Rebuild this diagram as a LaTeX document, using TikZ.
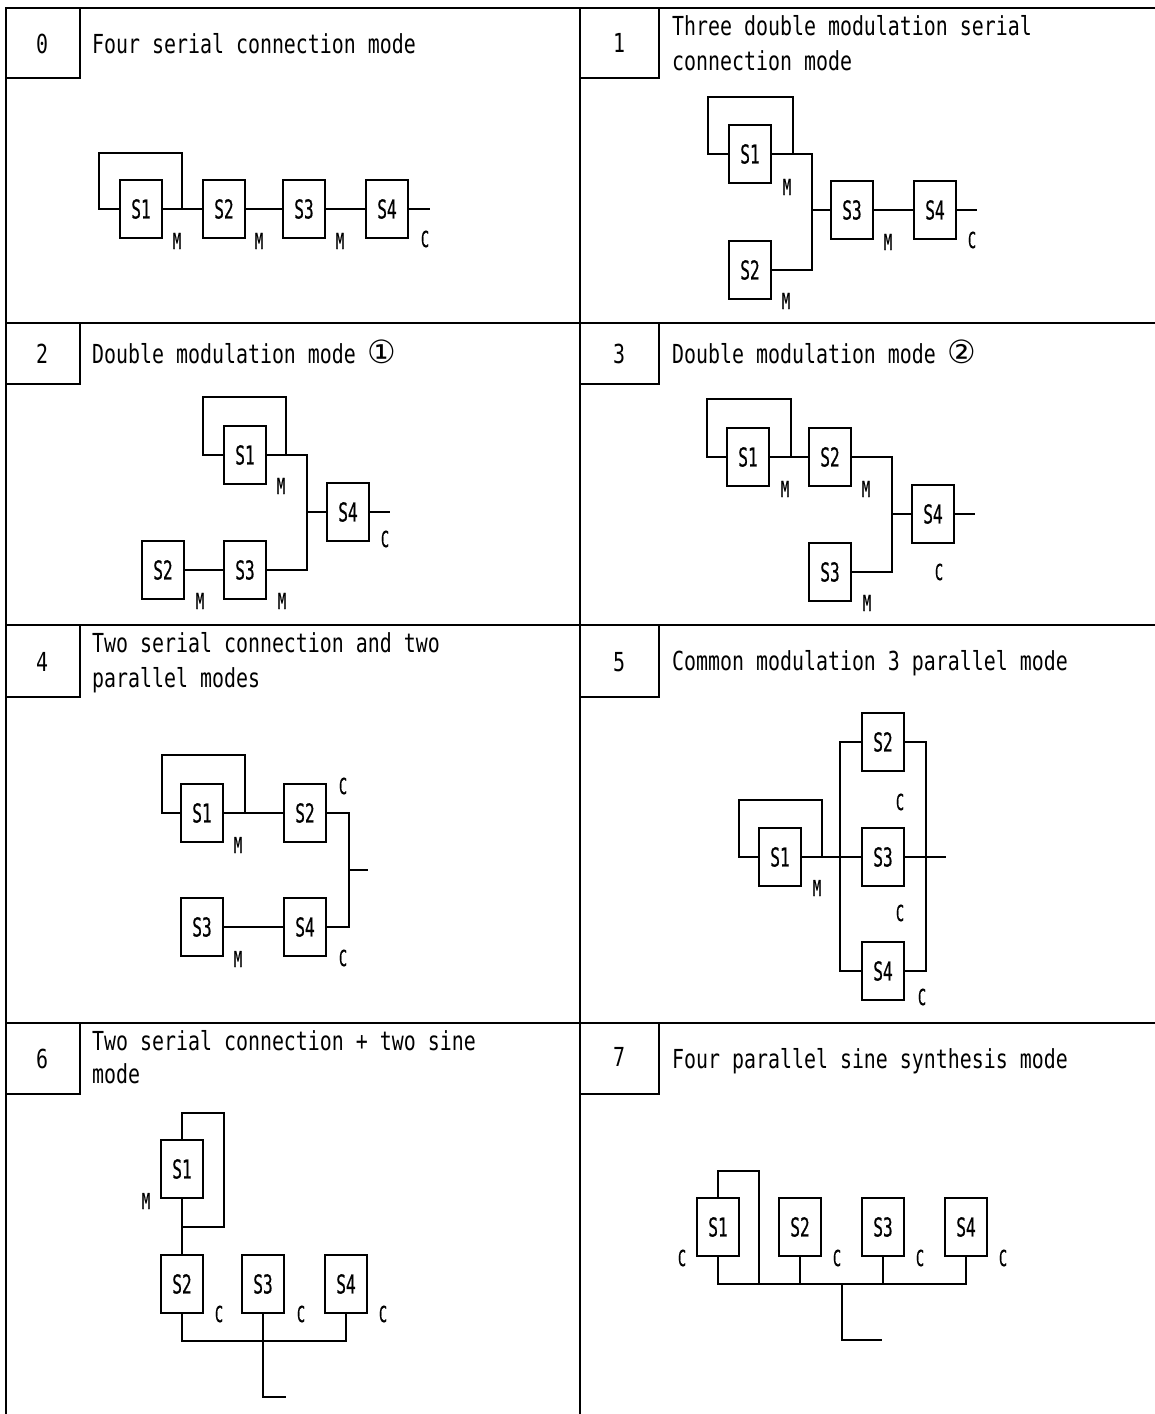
\documentclass[tikz,border=0pt]{standalone}
\usepackage{fontspec}
\usetikzlibrary{positioning}
\newfontfamily\ttlfont[FakeStretch=0.76]{DejaVu Sans Mono}
\newfontfamily\labfont[FakeStretch=0.62,FakeBold=0.6]{DejaVu Sans Mono}
\newfontfamily\circfont{DejaVu Sans}
\def\cone{{\circfont\fontsize{32}{32}\selectfont ①}}
\def\ctwo{{\circfont\fontsize{32}{32}\selectfont ②}}
\tikzset{
  sbox/.style={draw,line width=2.2pt,minimum width=42pt,minimum height=58pt,inner sep=0pt,font=\labfont\fontsize{26}{26}\selectfont},
  lab/.style={inner sep=0pt,font=\labfont\fontsize{22}{22}\selectfont},
  ttl/.style={anchor=base west,inner sep=0pt,font=\ttlfont\fontsize{26.2}{35}\selectfont},
  num/.style={inner sep=0pt,font=\ttlfont\fontsize{26.2}{35}\selectfont},
  wire/.style={line width=1.6pt},
  grid/.style={line width=2.8pt}
}

\begin{document}
\begin{tikzpicture}[x=1pt,y=-1pt]
  \useasboundingbox (0,0) rectangle (1155,1414);
  \draw[grid] (6,1414) -- (6,8) -- (1155,8);
  \draw[grid] (580,8) -- (580,1414);
  \foreach \y in {323,625,1023} \draw[grid] (6,\y) -- (1155,\y);
  \foreach \t/\b in {8/78,323/384,625/697,1023/1094}{
    \draw[grid] (6,\b) -| (80,\t);
    \draw[grid] (580,\b) -| (659,\t);
  }
  \node[num] (n0) at (42,44) {0};
  \node[num] (n1) at (619,43) {1};
  \node[num] (n2) at (42,354) {2};
  \node[num] (n3) at (619,354) {3};
  \node[num] (n4) at (42,662) {4};
  \node[num] (n5) at (619,662) {5};
  \node[num] (n6) at (42,1059) {6};
  \node[num] (n7) at (619,1057) {7};
  \node[ttl] (t0) at (92,53) {Four serial connection mode};
  \node[ttl] (t1a) at (672,35) {Three double modulation serial};
  \node[ttl] (t1b) at (672,70) {connection mode};
  \node[ttl] (t2) at (92,363) {Double modulation mode \cone};
  \node[ttl] (t3) at (672,363) {Double modulation mode \ctwo};
  \node[ttl] (t4a) at (92,652) {Two serial connection and two};
  \node[ttl] (t4b) at (92,687) {parallel modes};
  \node[ttl] (t5) at (672,670) {Common modulation 3 parallel mode};
  \node[ttl] (t6a) at (92,1050) {Two serial connection + two sine};
  \node[ttl] (t6b) at (92,1083) {mode};
  \node[ttl] (t7) at (672,1068) {Four parallel sine synthesis mode};

  \node[sbox] (p0s1) at (141,209) {S1};
  \node[sbox] (p0s2) at (224,209) {S2};
  \node[sbox] (p0s3) at (304,209) {S3};
  \node[sbox] (p0s4) at (387,209) {S4};
  \coordinate (p0out) at (430,209);
  \draw[wire] (p0s1) -- (p0s2) -- (p0s3) -- (p0s4) -- (p0out);
  \draw[wire] (p0s1.west) -| (99,153) -| (182,209);
  \node[lab] (p0m1) at (177,241) {M};
  \node[lab] (p0m2) at (259,241) {M};
  \node[lab] (p0m3) at (340,241) {M};
  \node[lab] (p0c4) at (425,239) {C};

  \node[sbox] (p1s1) at (750,154) {S1};
  \node[sbox] (p1s2) at (750,270) {S2};
  \node[sbox] (p1s3) at (852,210) {S3};
  \node[sbox] (p1s4) at (935,210) {S4};
  \coordinate (p1b) at (812,210);
  \coordinate (p1out) at (977,210);
  \draw[wire] (p1s1) -| (p1b);
  \draw[wire] (p1s2) -| (p1b);
  \draw[wire] (p1b) -- (p1s3) -- (p1s4) -- (p1out);
  \draw[wire] (p1s1.west) -| (708,97) -| (793,154);
  \node[lab] (p1m1) at (787,187) {M};
  \node[lab] (p1m3) at (888,242) {M};
  \node[lab] (p1c4) at (972,240) {C};
  \node[lab] (p1m2) at (786,301) {M};

  \node[sbox] (p2s1) at (245,455) {S1};
  \node[sbox] (p2s2) at (163,570) {S2};
  \node[sbox] (p2s3) at (245,570) {S3};
  \node[sbox] (p2s4) at (348,512) {S4};
  \coordinate (p2b) at (307,512);
  \coordinate (p2out) at (390,512);
  \draw[wire] (p2s1) -| (p2b);
  \draw[wire] (p2s3) -| (p2b);
  \draw[wire] (p2s2) -- (p2s3);
  \draw[wire] (p2b) -- (p2s4) -- (p2out);
  \draw[wire] (p2s1.west) -| (203,397) -| (286,455);
  \node[lab] (p2m1) at (281,486) {M};
  \node[lab] (p2c4) at (385,539) {C};
  \node[lab] (p2m2) at (200,601) {M};
  \node[lab] (p2m3) at (282,601) {M};

  \node[sbox] (p3s1) at (748,457) {S1};
  \node[sbox] (p3s2) at (830,457) {S2};
  \node[sbox] (p3s3) at (830,572) {S3};
  \node[sbox] (p3s4) at (933,514) {S4};
  \coordinate (p3b) at (892,514);
  \coordinate (p3out) at (975,514);
  \draw[wire] (p3s1) -- (p3s2);
  \draw[wire] (p3s2) -| (p3b);
  \draw[wire] (p3s3) -| (p3b);
  \draw[wire] (p3b) -- (p3s4) -- (p3out);
  \draw[wire] (p3s1.west) -| (707,399) -| (791,457);
  \node[lab] (p3m1) at (785,489) {M};
  \node[lab] (p3m2) at (866,489) {M};
  \node[lab] (p3c4) at (939,572) {C};
  \node[lab] (p3m3) at (867,603) {M};

  \node[sbox] (p4s1) at (202,813) {S1};
  \node[sbox] (p4s2) at (305,813) {S2};
  \node[sbox] (p4s3) at (202,927) {S3};
  \node[sbox] (p4s4) at (305,927) {S4};
  \coordinate (p4b) at (349,870);
  \coordinate (p4out) at (368,870);
  \draw[wire] (p4s1) -- (p4s2);
  \draw[wire] (p4s3) -- (p4s4);
  \draw[wire] (p4s2) -| (p4b);
  \draw[wire] (p4s4) -| (p4b);
  \draw[wire] (p4b) -- (p4out);
  \draw[wire] (p4s1.west) -| (162,755) -| (245,813);
  \node[lab] (p4m1) at (238,845) {M};
  \node[lab] (p4c2) at (343,786) {C};
  \node[lab] (p4m3) at (238,959) {M};
  \node[lab] (p4c4) at (343,958) {C};

  \node[sbox] (p5s1) at (780,857) {S1};
  \node[sbox] (p5s2) at (883,742) {S2};
  \node[sbox] (p5s3) at (883,857) {S3};
  \node[sbox] (p5s4) at (883,971) {S4};
  \coordinate (p5out) at (946,857);
  \draw[wire] (p5s1) -- (p5s3);
  \draw[wire] (p5s3) -- (p5out);
  \draw[wire] (p5s2.west) -- ++(-21,0) |- (p5s4.west);
  \draw[wire] (p5s2.east) -- ++(21,0) |- (p5s4.east);
  \draw[wire] (p5s1.west) -| (739,800) -| (822,857);
  \node[lab] (p5m1) at (817,888) {M};
  \node[lab] (p5c2) at (900,802) {C};
  \node[lab] (p5c3) at (900,913) {C};
  \node[lab] (p5c4) at (922,997) {C};

  \node[sbox] (p6s1) at (182,1169) {S1};
  \node[sbox] (p6s2) at (182,1284) {S2};
  \node[sbox] (p6s3) at (263,1284) {S3};
  \node[sbox] (p6s4) at (346,1284) {S4};
  \coordinate (p6out) at (286,1397);
  \draw[wire] (p6s1) -- (p6s2);
  \draw[wire] (p6s1.north) |- (224,1113) |- (182,1227);
  \draw[wire] (p6s2.south) -- ++(0,27) -| (p6s4.south);
  \draw[wire] (p6s3.south) |- (p6out);
  \node[lab] (p6m1) at (146,1201) {M};
  \node[lab] (p6c2) at (219,1314) {C};
  \node[lab] (p6c3) at (301,1314) {C};
  \node[lab] (p6c4) at (383,1314) {C};

  \node[sbox] (p7s1) at (718,1227) {S1};
  \node[sbox] (p7s2) at (800,1227) {S2};
  \node[sbox] (p7s3) at (883,1227) {S3};
  \node[sbox] (p7s4) at (966,1227) {S4};
  \coordinate (p7bus) at (842,1283);
  \coordinate (p7out) at (882,1340);
  \draw[wire] (p7s1.south) -- ++(0,27) -| (p7s4.south);
  \draw[wire] (p7s2) -- (p7s2 |- p7bus);
  \draw[wire] (p7s3) -- (p7s3 |- p7bus);
  \draw[wire] (p7bus) |- (p7out);
  \draw[wire] (p7s1.north) |- (759,1171) -- (759,1283);
  \node[lab] (p7c1) at (682,1258) {C};
  \node[lab] (p7c2) at (837,1258) {C};
  \node[lab] (p7c3) at (920,1258) {C};
  \node[lab] (p7c4) at (1003,1258) {C};
\end{tikzpicture}
\end{document}
